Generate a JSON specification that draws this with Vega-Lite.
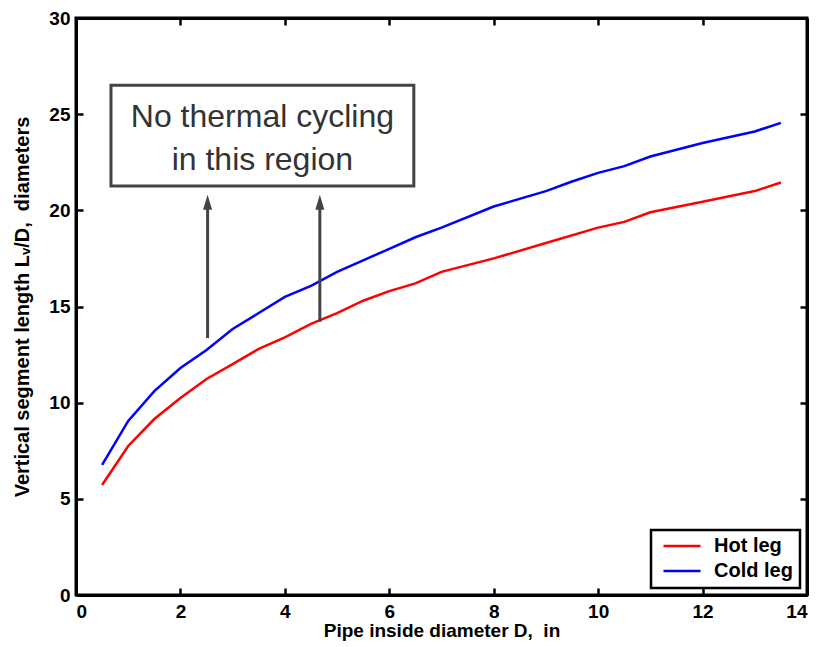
{
  "$schema": "https://vega.github.io/schema/vega-lite/v6.json",
  "width": 731,
  "height": 577,
  "autosize": {"type": "none"},
  "padding": {"left": 76, "top": 18, "right": 12, "bottom": 52},
  "background": "white",
  "config": {
    "font": "Liberation Sans",
    "view": {"stroke": "black", "strokeWidth": 3},
    "axis": {
      "domainColor": "black", "domainWidth": 3, "tickColor": "black", "tickWidth": 2.5,
      "tickSize": -7, "labelColor": "black", "labelFont": "Liberation Sans", "labelFontSize": 19,
      "labelFontWeight": "bold", "titleFont": "Liberation Sans", "titleFontSize": 20,
      "titleFontWeight": "bold", "titleColor": "black", "grid": false
    },
    "legend": {
      "strokeColor": "black", "strokeWidth": 2.5, "fillColor": "white",
      "labelFont": "Liberation Sans", "labelFontSize": 20, "labelFontWeight": "bold", "labelColor": "black"
    }
  },
  "datasets": {
    "curves": [
      {"D": 0.5, "LD": 5.72, "leg": "Hot leg"},
      {"D": 1.0, "LD": 7.75, "leg": "Hot leg"},
      {"D": 1.5, "LD": 9.15, "leg": "Hot leg"},
      {"D": 2.0, "LD": 10.24, "leg": "Hot leg"},
      {"D": 2.5, "LD": 11.23, "leg": "Hot leg"},
      {"D": 3.0, "LD": 12.0, "leg": "Hot leg"},
      {"D": 3.5, "LD": 12.8, "leg": "Hot leg"},
      {"D": 4.0, "LD": 13.4, "leg": "Hot leg"},
      {"D": 4.5, "LD": 14.1, "leg": "Hot leg"},
      {"D": 5.0, "LD": 14.66, "leg": "Hot leg"},
      {"D": 5.5, "LD": 15.3, "leg": "Hot leg"},
      {"D": 6.0, "LD": 15.8, "leg": "Hot leg"},
      {"D": 6.5, "LD": 16.2, "leg": "Hot leg"},
      {"D": 7.0, "LD": 16.8, "leg": "Hot leg"},
      {"D": 8.0, "LD": 17.5, "leg": "Hot leg"},
      {"D": 9.0, "LD": 18.3, "leg": "Hot leg"},
      {"D": 10.0, "LD": 19.1, "leg": "Hot leg"},
      {"D": 10.5, "LD": 19.4, "leg": "Hot leg"},
      {"D": 11.0, "LD": 19.9, "leg": "Hot leg"},
      {"D": 12.0, "LD": 20.45, "leg": "Hot leg"},
      {"D": 13.0, "LD": 21.0, "leg": "Hot leg"},
      {"D": 13.5, "LD": 21.45, "leg": "Hot leg"},
      {"D": 0.5, "LD": 6.76, "leg": "Cold leg"},
      {"D": 1.0, "LD": 9.05, "leg": "Cold leg"},
      {"D": 1.5, "LD": 10.6, "leg": "Cold leg"},
      {"D": 2.0, "LD": 11.8, "leg": "Cold leg"},
      {"D": 2.5, "LD": 12.74, "leg": "Cold leg"},
      {"D": 3.0, "LD": 13.83, "leg": "Cold leg"},
      {"D": 3.5, "LD": 14.66, "leg": "Cold leg"},
      {"D": 4.0, "LD": 15.5, "leg": "Cold leg"},
      {"D": 4.5, "LD": 16.07, "leg": "Cold leg"},
      {"D": 5.0, "LD": 16.8, "leg": "Cold leg"},
      {"D": 5.5, "LD": 17.4, "leg": "Cold leg"},
      {"D": 6.0, "LD": 18.0, "leg": "Cold leg"},
      {"D": 6.5, "LD": 18.6, "leg": "Cold leg"},
      {"D": 7.0, "LD": 19.1, "leg": "Cold leg"},
      {"D": 8.0, "LD": 20.2, "leg": "Cold leg"},
      {"D": 9.0, "LD": 21.0, "leg": "Cold leg"},
      {"D": 9.5, "LD": 21.5, "leg": "Cold leg"},
      {"D": 10.0, "LD": 21.95, "leg": "Cold leg"},
      {"D": 10.5, "LD": 22.3, "leg": "Cold leg"},
      {"D": 11.0, "LD": 22.8, "leg": "Cold leg"},
      {"D": 12.0, "LD": 23.5, "leg": "Cold leg"},
      {"D": 13.0, "LD": 24.1, "leg": "Cold leg"},
      {"D": 13.5, "LD": 24.55, "leg": "Cold leg"}
    ],
    "box": [{"x1": 0.67, "x2": 6.47, "y1": 21.27, "y2": 26.5}],
    "label": [
      {"x": 3.57, "y": 24.84, "text": "No thermal cycling"},
      {"x": 3.57, "y": 22.64, "text": "in this region"}
    ],
    "arrows": [
      {"x": 2.52, "y0": 13.36, "y1": 20.2, "tip": 20.42},
      {"x": 4.67, "y0": 14.2, "y1": 20.2, "tip": 20.42}
    ]
  },
  "resolve": {"axis": {"x": "independent", "y": "independent"}},
  "layer": [
    {
      "data": {"name": "curves"},
      "mark": {"type": "line", "strokeWidth": 2.5, "clip": true},
      "encoding": {
        "x": {"field": "D", "type": "quantitative", "scale": {"domain": [0, 14], "nice": false},
              "axis": {"orient": "bottom", "values": [0, 2, 4, 6, 8, 10, 12, 14], "labelPadding": 14, "title": "Pipe inside diameter D, \u00a0in", "titlePadding": 0, "titleFontSize": 19}},
        "y": {"field": "LD", "type": "quantitative", "scale": {"domain": [0, 30], "nice": false},
              "axis": {"orient": "left", "values": [0, 5, 10, 15, 20, 25, 30], "labelPadding": 13, "title": "Vertical segment length Lᵥ/D, \u00a0diameters", "titlePadding": 16}},
        "color": {"field": "leg", "type": "nominal",
                  "scale": {"domain": ["Hot leg", "Cold leg"], "range": ["#ff0000", "#0000ff"]},
                  "legend": {"title": null, "orient": "bottom-right", "offset": 7, "symbolType": "stroke",
                             "symbolSize": 1369, "symbolStrokeWidth": 2.5, "padding": 7, "rowPadding": 5,
                             "clipHeight": 18, "labelOffset": 12, "symbolOffset": 4}},
        "order": {"field": "D", "type": "quantitative"}
      }
    },
    {
      "data": {"name": "box"},
      "mark": {"type": "rect", "fill": "white", "stroke": "#444444", "strokeWidth": 3},
      "encoding": {
        "x": {"field": "x1", "type": "quantitative", "scale": {"domain": [0, 14], "nice": false},
              "axis": {"orient": "top", "values": [0, 2, 4, 6, 8, 10, 12, 14], "labels": false, "title": null}},
        "x2": {"field": "x2"},
        "y": {"field": "y1", "type": "quantitative", "scale": {"domain": [0, 30], "nice": false},
              "axis": {"orient": "right", "values": [0, 5, 10, 15, 20, 25, 30], "labels": false, "title": null}},
        "y2": {"field": "y2"}
      }
    },
    {
      "data": {"name": "label"},
      "mark": {"type": "text", "fontSize": 32, "color": "#333333", "font": "Liberation Sans", "align": "center", "baseline": "middle"},
      "encoding": {
        "x": {"field": "x", "type": "quantitative", "axis": null},
        "y": {"field": "y", "type": "quantitative", "axis": null},
        "text": {"field": "text"}
      }
    },
    {
      "data": {"name": "arrows"},
      "mark": {"type": "rule", "color": "#444444", "strokeWidth": 3},
      "encoding": {
        "x": {"field": "x", "type": "quantitative", "axis": null},
        "y": {"field": "y0", "type": "quantitative", "axis": null},
        "y2": {"field": "y1"}
      }
    },
    {
      "data": {"name": "arrows"},
      "mark": {"type": "point", "shape": "M0,-1L-0.6,1L0.6,1Z", "filled": true, "color": "#444444", "size": 225, "opacity": 1},
      "encoding": {
        "x": {"field": "x", "type": "quantitative", "axis": null},
        "y": {"field": "tip", "type": "quantitative", "axis": null}
      }
    }
  ]
}
